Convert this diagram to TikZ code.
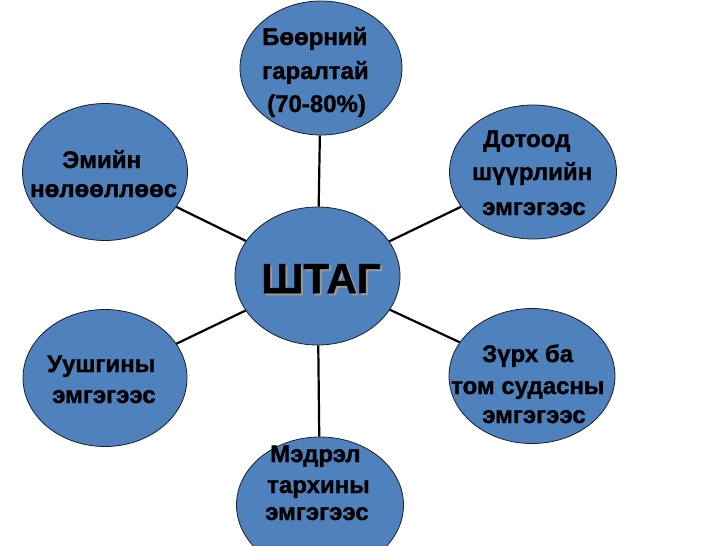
\documentclass[tikz,border=0pt]{standalone}
\usepackage{fontspec}
\setmainfont{Liberation Sans}
\newfontfamily\heavy[FakeBold=1.2]{Liberation Sans Bold}
\usetikzlibrary{shapes.geometric}
\definecolor{bubblefill}{RGB}{79,129,189}
\definecolor{rim}{RGB}{25,30,45}
\begin{document}
\begin{tikzpicture}[x=1pt,y=-1pt,
  bubble/.style={ellipse, draw=rim, line width=0.8pt, fill=bubblefill, inner sep=0pt},
  lbl/.style={anchor=base west, inner sep=0pt, font=\fontsize{24}{24}\heavy},
  big/.style={anchor=base west, inner sep=0pt, font=\fontsize{42}{42}\heavy},
  link/.style={line width=2.2pt, black}]
\useasboundingbox (0,0) rectangle (728,546);

\node[bubble, minimum width=165pt, minimum height=138pt] (c)  at (317.5,276) {};
\node[bubble, minimum width=162pt, minimum height=134pt] (t)  at (321,68) {};
\node[bubble, minimum width=167pt, minimum height=134pt] (ur) at (533,172) {};
\node[bubble, minimum width=166pt, minimum height=135pt] (lr) at (532,376) {};
\node[bubble, minimum width=167pt, minimum height=136pt] (b)  at (320,505) {};
\node[bubble, minimum width=164pt, minimum height=137pt] (ll) at (105,378) {};
\node[bubble, minimum width=165pt, minimum height=137pt] (ul) at (105,172) {};

\draw[link] (c) -- (t);
\draw[link] (c) -- (ur);
\draw[link] (c) -- (lr);
\draw[link] (c) -- (b);
\draw[link] (c) -- (ll);
\draw[link] (c) -- (ul);

% centre, with its light shadow
\node[big] (ct) at (261,293) {\rlap{\hspace{2pt}\raisebox{-2pt}{\color{black!40}ШТАГ}}ШТАГ};

% top
\node[lbl] (t1) at (262,45) {Бөөрний};
\node[lbl] (t2) at (262,79) {гаралтай};
\node[lbl] (t3) at (267,112) {(70-80\%)};

% upper right
\node[lbl] (ur1) at (483,147) {Дотоод};
\node[lbl] (ur2) at (472,180) {шүүрлийн};
\node[lbl] (ur3) at (482,215) {эмгэгээс};

% lower right
\node[lbl] (lr1) at (482,362) {Зүрх ба};
\node[lbl] (lr2) at (451,394) {том судасны};
\node[lbl] (lr3) at (482,423) {эмгэгээс};

% bottom
\node[lbl] (b1) at (270,462) {Мэдрэл};
\node[lbl] (b2) at (267,493) {тархины};
\node[lbl] (b3) at (265,520) {эмгэгээс};

% lower left
\node[lbl] (ll1) at (47,372) {Уушгины};
\node[lbl] (ll2) at (52,403) {эмгэгээс};

% upper left
\node[lbl] (ul1) at (62,168) {Эмийн};
\node[lbl] (ul2) at (30,197) {нөлөөллөөс};
\end{tikzpicture}
\end{document}
